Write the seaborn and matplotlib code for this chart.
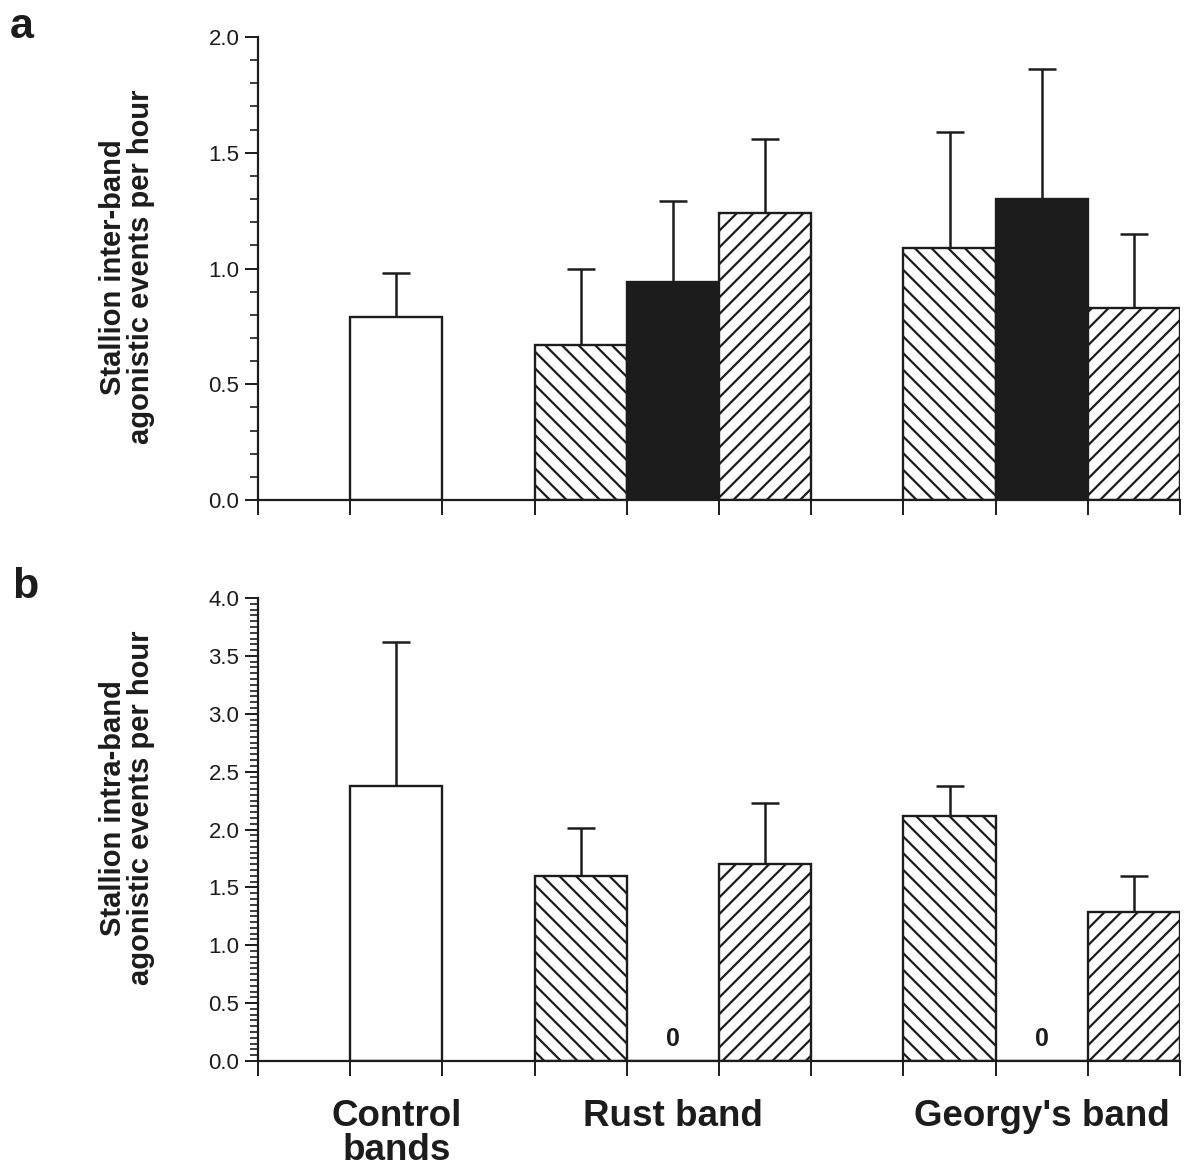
import matplotlib
matplotlib.use("Agg")
import matplotlib.pyplot as plt
from matplotlib.ticker import MultipleLocator
import numpy as np
import pandas as pd
import seaborn as sns

# ---- data -------------------------------------------------------------
group_names = ["Control\nbands", "Rust band", "Georgy's band"]
bar_group = [0, 1, 1, 1, 2, 2, 2]          # group index of each bar
bar_phase = [0, 1, 2, 3, 1, 2, 3]          # 0 = control, 1..3 = study periods

inter_mean = [0.79, 0.67, 0.94, 1.24, 1.09, 1.30, 0.83]
inter_se = [0.19, 0.33, 0.35, 0.32, 0.50, 0.56, 0.32]

intra_mean = [2.38, 1.60, 0.0, 1.70, 2.12, 0.0, 1.29]
intra_se = [1.24, 0.41, 0.0, 0.53, 0.26, 0.0, 0.31]

inter_ylabel = "Stallion inter-band\nagonistic events per hour"
intra_ylabel = "Stallion intra-band\nagonistic events per hour"
inter_yticks = [0.0, 0.5, 1.0, 1.5, 2.0]
intra_yticks = [0.0, 0.5, 1.0, 1.5, 2.0, 2.5, 3.0, 3.5, 4.0]

# ---- styling ----------------------------------------------------------
sns.set_theme(style="ticks")
plt.rcParams["font.family"] = ["Liberation Sans", "DejaVu Sans"]
plt.rcParams["hatch.linewidth"] = 1.6
INK = "#1c1c1c"
plt.rcParams["hatch.color"] = INK

phase_face = {0: "white", 1: "white", 2: INK, 3: "white"}
phase_hatch = {0: None, 1: "\\\\", 2: None, 3: "//"}

# slot layout: one empty slot before each group
group_start = [1, 3, 7]
counts = [bar_group.count(g) for g in range(len(group_names))]
slots = []
seen = {}
for g in bar_group:
    k = seen.get(g, 0)
    slots.append(group_start[g] + k + 0.5)
    seen[g] = k + 1
n_slots = 10
group_centers = [group_start[g] + counts[g] / 2 for g in range(len(group_names))]

fig = plt.figure(figsize=(11.89, 11.70), dpi=100)
W, H = 1189, 1170
ax_a = fig.add_axes([258 / W, 1 - 500 / H, 922 / W, 463 / H])
ax_b = fig.add_axes([258 / W, 1 - 1061 / H, 922 / W, 463 / H])


def draw_panel(ax, mean, se, yticks, minor, ylabel, label_y):
    df = pd.DataFrame({"slot": slots, "value": mean})
    sns.barplot(data=df, x="slot", y="value", native_scale=True, width=1.0,
                color="white", edgecolor=INK, linewidth=1.7, errorbar=None,
                ax=ax, zorder=2)
    slot_phase = dict(zip(slots, bar_phase))
    for p in ax.patches:
        cx = round(p.get_x() + p.get_width() / 2, 2)
        ph = slot_phase[cx]
        p.set_facecolor(phase_face[ph])
        p.set_hatch(phase_hatch[ph])
        p.set_edgecolor(INK)
    xs = [s for s, e in zip(slots, se) if e > 0]
    ms = [m for m, e in zip(mean, se) if e > 0]
    es = [e for e in se if e > 0]
    ax.errorbar(xs, ms, yerr=[np.zeros(len(es)), es], fmt="none",
                ecolor=INK, elinewidth=1.8, capsize=10, capthick=1.8, zorder=1)
    for s, m in zip(slots, mean):
        if m == 0:
            ax.annotate("0", (s, m), xytext=(0, 7), textcoords="offset points",
                        ha="center", va="bottom", fontsize=18,
                        fontweight="bold", color=INK)
    ax.set_xlim(0, n_slots)
    ax.set_ylim(yticks[0], yticks[-1])
    ax.set_xticks(np.arange(0, n_slots + 1))
    ax.set_xticklabels([])
    ax.set_yticks(yticks)
    ax.set_yticklabels([f"{t:.1f}" for t in yticks])
    ax.yaxis.set_minor_locator(MultipleLocator(minor))
    ax.tick_params(axis="y", which="major", length=9.5, width=1.4,
                   labelsize=16, pad=4, colors=INK)
    ax.tick_params(axis="y", which="minor", length=6, width=1.2, colors=INK)
    ax.tick_params(axis="x", which="major", length=11, width=1.4, colors=INK)
    ax.tick_params(axis="x", which="minor", length=0)
    for side in ("top", "right"):
        ax.spines[side].set_visible(False)
    for side in ("left", "bottom"):
        ax.spines[side].set_linewidth(1.6)
        ax.spines[side].set_color(INK)
    ax.set_xlabel("")
    ax.set_ylabel(ylabel, fontsize=21, fontweight="bold", color=INK,
                  linespacing=1.0)
    ax.yaxis.set_label_coords(-0.112, label_y)
    ax.set_facecolor("white")


draw_panel(ax_a, inter_mean, inter_se, inter_yticks, 0.1, inter_ylabel, 0.503)
draw_panel(ax_b, intra_mean, intra_se, intra_yticks, 0.05, intra_ylabel, 0.546)

ax_b.set_xticks(group_centers, minor=True)
ax_b.set_xticklabels(group_names, minor=True, fontsize=26.5, fontweight="bold",
                     color=INK, linespacing=1.0)
ax_b.tick_params(axis="x", which="minor", pad=27)

fig.text(10 / W, 1 - 38 / H, "a", fontsize=31, fontweight="bold", color=INK,
         ha="left", va="baseline")
fig.text(12 / W, 1 - 598 / H, "b", fontsize=31, fontweight="bold", color=INK,
         ha="left", va="baseline")

fig.savefig("out.png", dpi=100, facecolor="white")
